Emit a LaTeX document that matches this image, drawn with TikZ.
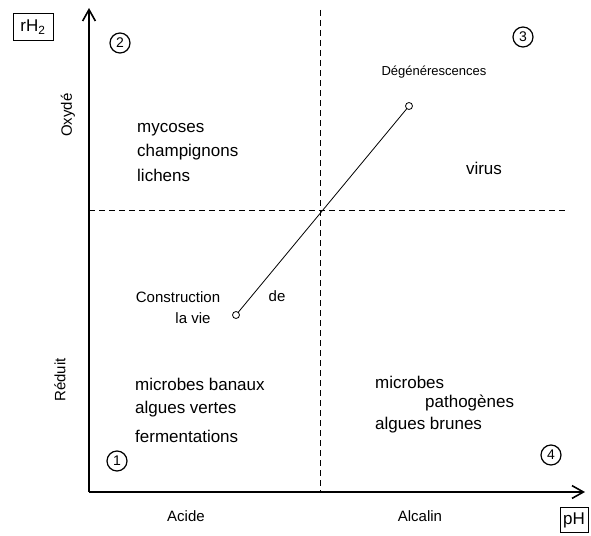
\documentclass[tikz,border=0pt]{standalone}
\usepackage{fontspec}
\setmainfont{Liberation Sans}
\usepackage{tikz}
\usetikzlibrary{arrows.meta,positioning,calc}

\begin{document}
\begin{tikzpicture}[
    x=1pt, y=-1pt,
    axis/.style={draw=black, line width=1.6pt, -{Straight Barb[length=4mm,width=4.5mm]}},
    sep/.style={draw=black, thick, dashed, dash pattern=on 6pt off 4pt},
    unitbox/.style={rectangle, draw=black, thick, inner sep=3pt, font=\fontsize{17}{20}\selectfont},
    zonenum/.style={circle, draw=black, line width=1.2pt, inner sep=1pt, minimum size=20pt, font=\fontsize{14}{16}\selectfont},
    dot/.style={circle, draw=black, thick, fill=white, inner sep=0pt, minimum size=7pt},
    lbl/.style={font=\fontsize{17}{20}\selectfont, align=left, inner sep=1pt},
    axlbl/.style={font=\fontsize{15}{18}\selectfont, inner sep=1pt}
]
\useasboundingbox (0,0) rectangle (591,535);

% Axes
\coordinate (orig) at (89,492);
\coordinate (ytop) at (89,8);
\coordinate (xend) at (585,492);
\draw[axis] (orig) -- (ytop);
\draw[axis] (orig) -- (xend);

\coordinate (vtop) at (320,10);
\coordinate (vbot) at (320,492);
\coordinate (hleft) at (89,210);
\coordinate (hright) at (566,210);
\draw[sep] (vtop) -- (vbot);
\draw[sep] (hleft) -- (hright);

\node[unitbox, minimum width=40pt, minimum height=27pt] (rh) at (33,27) {rH\textsubscript{2}};
\node[unitbox, minimum width=28pt, minimum height=25pt] (ph) at (574,520) {pH};

\node[axlbl, rotate=90] (oxy) at (68,115) {Oxydé};
\node[axlbl, rotate=90] (red) at (60,380) {Réduit};
\node[axlbl] (acide) at (186,516) {Acide};
\node[axlbl] (alc) at (420,516) {Alcalin};

% Zones
\node[zonenum] (z2) at (120,43) {2};
\node[zonenum] (z3) at (523,37) {3};
\node[zonenum] (z1) at (117,461) {1};
\node[zonenum] (z4) at (551,455) {4};

\node[lbl, anchor=west] (myc) at (136,130) {mycoses};
\node[lbl, anchor=west] (cha) at (136,152) {champignons};
\node[lbl, anchor=west] (lic) at (136,175) {lichens};
\node[lbl] (vir) at (484,168) {virus};

\node[lbl, anchor=west] (mba) at (134,384) {microbes banaux};
\node[lbl, anchor=west] (alv) at (134,409) {algues vertes};
\node[lbl, anchor=west] (fer) at (134,436) {fermentations};

\node[lbl, anchor=west] (mic) at (374,382) {microbes};
\node[lbl, anchor=west] (pat) at (424,403) {pathogènes};
\node[lbl, anchor=west] (alb) at (374,425) {algues brunes};

% Line
\node[dot] (vie) at (236,315) {};
\node[dot] (deg) at (409,106) {};
\draw[thick] (vie) -- (deg);
\node[lbl, font=\fontsize{13}{16}\selectfont] (degl) at (434,72) {Dégénérescences};
\node[axlbl] (cons) at (178,297) {Construction};
\node[axlbl] (de) at (277,296) {de};
\node[axlbl] (lavie) at (193,318) {la vie};

\end{tikzpicture}
\end{document}
